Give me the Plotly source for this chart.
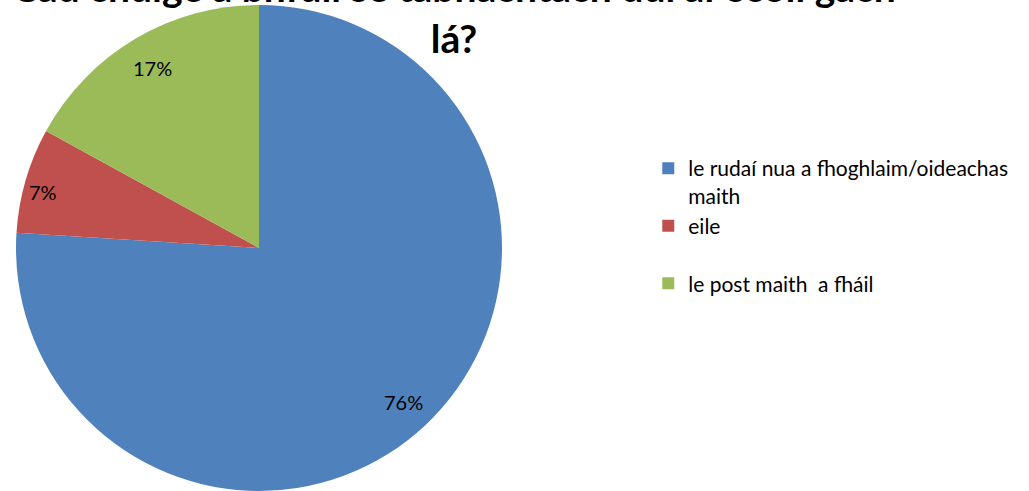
import math
import plotly.graph_objects as go

labels = ["le rudaí nua a fhoghlaim/oideachas<br>maith", "eile<br> ", "le post maith  a fháil"]
values = [76, 7, 17]
colors = ["#4F81BD", "#C0504D", "#9BBB59"]
title_text = "Cad chuige a bhfuil sé tábhachtach dul ar scoil gach<br>lá?"

W, H = 1029, 491
mt, mb = 5, 0
ph = H - mt - mb
r_px = ph / 2
cx_px = 259
dom_x = [(cx_px - r_px) / W, (cx_px + r_px) / W]
FONT = "Lato, Calibri, sans-serif"

fig = go.Figure()
fig.add_trace(go.Pie(
    labels=labels, values=values, sort=False, direction="clockwise", rotation=0,
    marker=dict(colors=colors, line=dict(color="white", width=0)),
    textinfo="none", hoverinfo="label+percent",
    domain=dict(x=dom_x, y=[0, 1]),
))

# percentage labels placed at slice mid-angles
total = sum(values)
cum = 0
factors = [0.87, 0.92, 0.86]
offsets = [0.0, -0.03, 0.0]  # small angular nudges (radians)
for v, f, o in zip(values, factors, offsets):
    mid = (cum + v / 2) / total * 2 * math.pi + o
    cum += v
    px = cx_px + f * r_px * math.sin(mid)
    py = f * r_px * math.cos(mid)
    fig.add_annotation(
        x=px / W, y=0.5 + py / ph, xref="paper", yref="paper",
        xanchor="center", yanchor="middle",
        text=f"{round(v / total * 100)}%", showarrow=False,
        font=dict(family=FONT, size=20, color="#000000"),
    )

fig.add_annotation(
    x=454 / W, y=1 - (63 - mt) / ph, xref="paper", yref="paper",
    xanchor="center", yanchor="bottom", text=title_text, showarrow=False,
    font=dict(family=FONT, size=39, color="#000000", weight="bold"),
)

fig.update_layout(
    width=W, height=H,
    margin=dict(l=0, r=0, t=mt, b=mb),
    paper_bgcolor="white", plot_bgcolor="white",
    showlegend=True,
    legend=dict(x=0.630, y=1 - (148 - mt) / ph, xanchor="left", yanchor="top",
                valign="top", traceorder="normal",
                font=dict(family=FONT, size=21, color="#000000")),
)

fig.write_html("out.html", config={"displayModeBar": False},
               post_script="document.body.style.margin='0';")
